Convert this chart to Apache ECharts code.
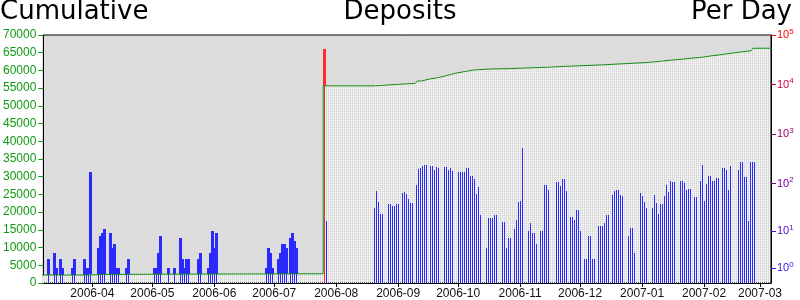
<!DOCTYPE html>
<html><head><meta charset="utf-8">
<script src="https://cdn.jsdelivr.net/npm/echarts@6/dist/echarts.min.js"></script>
<style>html,body{margin:0;padding:0;background:#fff}#c{width:800px;height:300px}</style>
</head><body><div id="c"></div>
<script>
// ---- per-day deposits (one array per month, index 0 = day 1) ----
const mar06 = [0,0,0,0,0, 0,0,0,0,2, 0,0,3,1,0, 2,1,0,0,0, 0,1,2,0,0, 0,0,2,1,1, 168];
const apr06 = [0,0,0,4,8, 9,11,0,0,9, 4,5,1,1,0, 0,0,1,2,0, 0,0,0,0,0, 0,0,0,0,0];
const may06 = [0,1,1,3,8, 0,0,0,1,0, 0,1,0,0,7, 2,1,2,2,0, 0,0,0,2,3, 0,0,0,1,3, 10];
const jun06 = [4,9,0,0,0, 0,0,0,0,0, 0,0,0,0,0, 0,0,0,0,0, 0,0,0,0,0, 0,1,4,3,1];
const jul06 = [0,0,2,3,5, 5,4,0,7,9, 6,4,0,0,0, 0,0,0,0,0, 0,0,0,0,0, 53400,17,0,0,0, 0];
const aug06 = [0,0,0,0,0, 0,0,0,0,0, 0,0,0,0,0, 0,0,0,0,31, 70,42,24,24,0, 0,38,38,34,34, 38];
const sep06 = [38,0,63,66,60, 48,40,40,0,92, 194,203,225,235,235, 0,225,225,185,213, 203,0,0,213,213, 185,203,177,0,0];
const oct06 = [168,168,168,168,203, 203,140,140,122,60, 84,22,0,0,4, 19,19,19,22,22, 0,0,16,16,4, 7,7,0,11,18, 41];
const nov06 = [43,536,0,0,10, 15,9,9,5,0, 10,10,92,92,73, 0,0,0,106,106, 88,122,122,70,0, 20,20,18,29,29];
const dec06 = [10,0,2,2,8, 8,2,2,0,13, 13,13,15,23,23, 0,58,70,73,73, 58,55,0,0,8, 12,12,3,0,0, 63];
const jan07 = [55,41,31,0,0, 31,58,40,24,39, 39,55,92,66,111, 106,106,0,0,111, 111,101,73,76,76, 0,52,52,0,111, 235];
const feb07 = [45,100,140,140,111, 111,127,127,0,203, 203,185,73,225,0, 0,0,185,280,280, 134,134,17,280,280, 268,0,0];
const mar07 = [0,0,0,0,0, 0,0,0];

// ---- cumulative deposits ----
const cumDates  = ['2006-03-06','2006-03-31','2006-04-07','2006-06-01','2006-07-26','2006-08-21','2006-09-01','2006-09-10','2006-09-11','2006-09-13','2006-09-14','2006-09-17','2006-09-20','2006-09-24','2006-09-27','2006-10-01','2006-10-05','2006-10-09','2006-10-17','2006-10-27','2006-11-02','2006-11-15','2006-11-24','2006-12-12','2006-12-22','2007-01-03','2007-01-10','2007-01-16','2007-01-22','2007-01-26','2007-01-31','2007-02-05','2007-02-10','2007-02-15','2007-02-19','2007-02-22','2007-02-25','2007-02-26'];
const cumValues = [2250, 2420, 2530, 2600, 55660, 56060, 56340, 56620, 57000, 57270, 57550, 57830, 58300, 58750, 59300, 59700, 60100, 60400, 60500, 60650, 60900, 61150, 61550, 61850, 62200, 62550, 62900, 63200, 63450, 63700, 64100, 64450, 64850, 65150, 65350, 65550, 65950, 66260];

// ---- axis ticks ----
const monthTicks = ['2006-04','2006-05','2006-06','2006-07','2006-08','2006-09','2006-10','2006-11','2006-12','2007-01','2007-02','2007-03'];
const logExponents = [0,1,2,3,4,5];
const logColors = ['#3a10e8','#5a08c8','#7a00a0','#a00070','#d0003a','#ff0000'];

const DAY = 86400000;
const months = [[2006,3,mar06],[2006,4,apr06],[2006,5,may06],[2006,6,jun06],[2006,7,jul06],[2006,8,aug06],[2006,9,sep06],[2006,10,oct06],[2006,11,nov06],[2006,12,dec06],[2007,1,jan07],[2007,2,feb07],[2007,3,mar07]];
function parseDay(s){const p=s.split('-').map(Number);return Date.UTC(p[0],p[1]-1,p[2]||1);}
// 364 days across the 728px plot: two pixels per day
const xMin = Date.UTC(2006,2,7,12,0);
const xMax = Date.UTC(2007,2,6,12,0);

// bars plotted on a log10(1 + n) scale
const barData = [];
months.forEach(([y,m,arr]) => arr.forEach((v,i) => {
  if (v > 0) barData.push([Date.UTC(y,m-1,i+1), Math.log10(v+1), v > 10000 ? 1 : 0]);
}));
const cumTs = cumDates.map(parseDay);
const cumData = cumTs.map((t,i)=>[t - 0.5*DAY, cumValues[i]]);
cumData[0][0] = xMin - DAY;
cumData.push([xMax + DAY, cumValues[cumValues.length-1]]);
// one hatched column per day, up to the cumulative level (step function of the readings)
const dayCols = [];
for (let t = Date.UTC(2006,2,8); t <= xMax; t += DAY) {
  let lvl = cumValues[0];
  for (let i = 0; i < cumTs.length; i++) if (cumTs[i] <= t) lvl = cumValues[i];
  dayCols.push([t, lvl]);
}
const tickTs = monthTicks.map(parseDay);

// dotted fill for the hatch columns
const pc = document.createElement('canvas'); pc.width = 1; pc.height = 2;
const g = pc.getContext('2d');
g.fillStyle = '#fdfdfd'; g.fillRect(0,0,1,1);
g.fillStyle = '#e6e6e6'; g.fillRect(0,1,1,1);
const hatch = {image:pc, repeat:'repeat'};

const BLUE = '#2a2aff', RED = '#ff2a2a';
function renderBar(params, api){
  const x = api.value(0), v = api.value(1);
  const top = api.coord([x, v]);
  const bot = api.coord([x, 0]);
  const p = Math.round(top[0]);
  const t = Math.round(top[1]);
  return {type:'rect', shape:{x:p-1, y:t, width:3, height:Math.round(bot[1]) - t},
          style:{fill: api.value(2) ? RED : BLUE}};
}
function renderHatch(params, api){
  const x = api.value(0), v = api.value(1);
  const top = api.coord([x, v]);
  const bot = api.coord([x, 0]);
  const p = Math.round(top[0]);
  const t = Math.round(top[1]);
  return {type:'rect', shape:{x:p-1, y:t, width:1, height:Math.round(bot[1]) - t}, style:{fill:hatch}};
}

const FONT = 'Liberation Sans';
const rightAxes = logExponents.map((e,i) => {
  const pos = Math.min(5, Math.log10(Math.pow(10,e) + 1));
  return {
    type:'value', min:0, max:5, position:'right',
    axisLine:{show:false}, splitLine:{show:false},
    axisTick:{show:true, customValues:[pos], length:5, lineStyle:{color:logColors[i]}},
    axisLabel:{show:true, customValues:[pos], margin:6,
      formatter:()=>'{b|10}{s|'+e+'}',
      rich:{b:{fontSize:11,fontFamily:FONT,color:logColors[i]},
            s:{fontSize:8,fontFamily:FONT,color:logColors[i],padding:[0,0,7,0]}}}
  };
});

const chart = echarts.init(document.getElementById('c'), null, {renderer:'canvas'});
chart.setOption({
  animation:false,
  graphic:[
    {type:'text', left:0, top:-1, style:{text:'Cumulative', font:'26px "DejaVu Sans"', fill:'#000'}},
    {type:'text', left:'center', top:-1, style:{text:'Deposits', font:'26px "DejaVu Sans"', fill:'#000'}},
    {type:'text', right:8, top:-1, style:{text:'Per Day', font:'26px "DejaVu Sans"', fill:'#000'}}
  ],
  grid:{left:43, right:29, top:35, bottom:16, show:true, backgroundColor:'#dcdcdc', borderColor:'#000', borderWidth:1},
  xAxis:{type:'value', min:xMin, max:xMax, scale:true,
    axisLine:{show:true, onZero:false, lineStyle:{color:'#000'}},
    axisTick:{show:true, customValues:tickTs, length:4, lineStyle:{color:'#000'}},
    axisLabel:{show:true, customValues:tickTs, fontSize:12, fontFamily:FONT, color:'#111', margin:5,
      formatter:(v)=>{const d=new Date(v);return d.getUTCFullYear()+'-'+String(d.getUTCMonth()+1).padStart(2,'0');}},
    splitLine:{show:false}},
  yAxis:[
    {type:'value', min:0, max:70000, interval:5000, position:'left',
     axisLine:{show:true, lineStyle:{color:'#000'}},
     axisTick:{show:true, length:5, lineStyle:{color:'#119911'}},
     axisLabel:{color:'#119911', fontSize:12, fontFamily:FONT, margin:7, formatter:(v)=>String(v)},
     splitLine:{show:false}},
    {type:'value', min:0, max:5, position:'right',
     axisLine:{show:true, lineStyle:{color:'#000'}}, axisTick:{show:false}, axisLabel:{show:false}, splitLine:{show:false}}
  ].concat(rightAxes),
  series:[
    {type:'custom', xAxisIndex:0, yAxisIndex:1, data:barData, renderItem:renderBar, z:1, silent:true, clip:true},
    {type:'custom', xAxisIndex:0, yAxisIndex:0, data:dayCols, renderItem:renderHatch, z:2, silent:true, clip:true},
    {type:'line', xAxisIndex:0, yAxisIndex:0, data:cumData, step:'end', showSymbol:false, symbol:'none',
     lineStyle:{color:'#138a13', width:1}, z:4, silent:true, clip:true}
  ]
});
</script></body></html>
